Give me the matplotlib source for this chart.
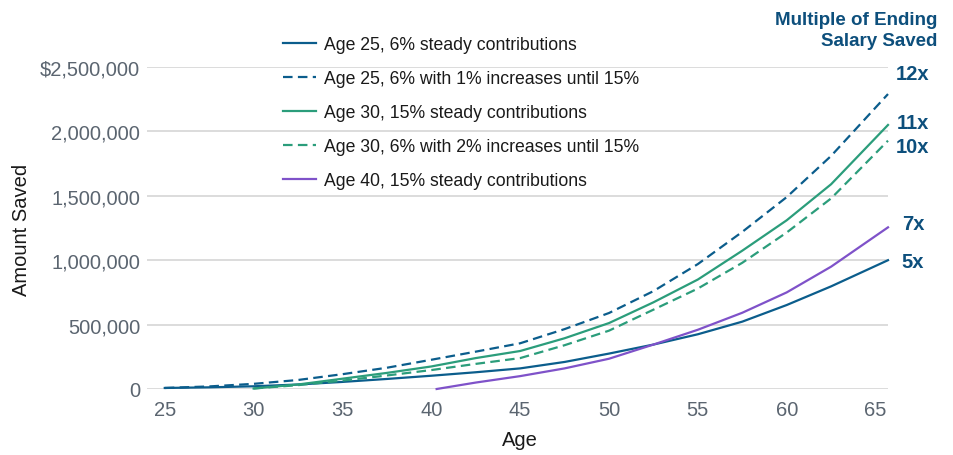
import matplotlib
matplotlib.use("Agg")
import matplotlib.pyplot as plt
from matplotlib.ticker import FuncFormatter

plt.rcParams['font.family'] = ['Liberation Sans', 'DejaVu Sans']

# ages (x) and amount saved in dollars (y)
ages_25 = [25, 27.5, 30, 32.5, 35, 37.5, 40, 42.5, 45, 47.5, 50, 52.5, 55, 57.5, 60, 62.5, 65.7]
ages_30 = [30, 32.5, 35, 37.5, 40, 42.5, 45, 47.5, 50, 52.5, 55, 57.5, 60, 62.5, 65.7]
ages_40 = [40.3, 42.5, 45, 47.5, 50, 52.5, 55, 57.5, 60, 62.5, 65.7]

age25_steady = [8e3, 13e3, 21e3, 35e3, 55e3, 78e3, 103e3, 130e3, 160e3, 210e3, 275e3, 345e3, 425e3,
                523e3, 652e3, 797e3, 1000e3]
age25_incr = [8e3, 20e3, 40e3, 70e3, 115e3, 165e3, 227e3, 290e3, 355e3, 465e3, 590e3, 760e3, 970e3,
              1220e3, 1490e3, 1810e3, 2290e3]
age30_steady = [4e3, 35e3, 80e3, 125e3, 175e3, 240e3, 295e3, 394e3, 512e3, 673e3, 850e3, 1074e3,
                1310e3, 1590e3, 2050e3]
age30_incr = [4e3, 30e3, 65e3, 105e3, 147e3, 195e3, 240e3, 340e3, 453e3, 616e3, 780e3, 980e3,
              1215e3, 1480e3, 1928e3]
age40_steady = [0, 50e3, 100e3, 160e3, 235e3, 345e3, 460e3, 592e3, 750e3, 950e3, 1255e3]

labels = ['Age 25, 6% steady contributions',
          'Age 25, 6% with 1% increases until 15%',
          'Age 30, 15% steady contributions',
          'Age 30, 6% with 2% increases until 15%',
          'Age 40, 15% steady contributions']
multiples = ['5x', '12x', '11x', '10x', '7x']

blue = '#0b5d8c'
green = '#2b9d7b'
purple = '#7f52c9'
navy = '#0d4f7c'
grey_txt = '#5b6570'

fig = plt.figure(figsize=(9.54, 4.56), dpi=100)
ax = fig.add_axes([147/954, 66/456, 741/954, 322/456])

series = [
    (ages_25, age25_steady, blue, '-'),
    (ages_25, age25_incr, blue, '--'),
    (ages_30, age30_steady, green, '-'),
    (ages_30, age30_incr, green, '--'),
    (ages_40, age40_steady, purple, '-'),
]
lines = []
for (x, y, c, ls), lab in zip(series, labels):
    l, = ax.plot(x, y, color=c, lw=1.6, ls=ls, label=lab, clip_on=False, zorder=3)
    if ls == '--':
        l.set_dashes((4.3, 2.4))
    lines.append(l)

# multiple of salary labels at the line ends
offsets = [(18, -1), (18, 14.5), (18, 1.5), (18, -4.5), (18, 3)]
for (x, y, c, ls), m, off in zip(series, multiples, offsets):
    ax.annotate(m, xy=(x[-1], y[-1]), xytext=off, textcoords='offset points',
                ha='center', va='center', fontsize=14.5, fontweight='bold',
                color=navy, annotation_clip=False)

ax.set_xlim(24, 65.7)
ax.set_ylim(0, 2500000)
ax.set_xticks(range(25, 66, 5))
ax.set_yticks(range(0, 2500001, 500000))


def money(v, pos):
    if v >= 2500000:
        return '${:,.0f}'.format(v)
    return '{:,.0f}'.format(v)


ax.yaxis.set_major_formatter(FuncFormatter(money))
ax.grid(axis='y', color='#d9d9d9', lw=1.3)
ax.set_axisbelow(True)
for s in ax.spines.values():
    s.set_visible(False)
ax.tick_params(axis='both', length=0, labelsize=14.5, colors=grey_txt)
ax.tick_params(axis='y', pad=5)
ax.tick_params(axis='x', pad=8)

fig.text(22/954, 1 - 230/456, 'Amount Saved', rotation=90, ha='center', va='center',
         fontsize=14.5, color='#1a1a1a')
fig.text(520/954, 1 - 441/456, 'Age', ha='center', va='center', fontsize=14.5, color='#1a1a1a')
fig.text(937/954, 1 - 31/456, 'Multiple of Ending\nSalary Saved', ha='right', va='center',
         multialignment='right', linespacing=1.3, fontsize=13.5, fontweight='bold', color=navy)

leg = ax.legend(handles=lines, loc='upper left', bbox_to_anchor=(283/954, 1 - 37/456),
                bbox_transform=fig.transFigure, frameon=False, fontsize=12.7,
                handlelength=1.85, handletextpad=0.5, labelspacing=0.97,
                borderpad=0, borderaxespad=0)
for t in leg.get_texts():
    t.set_color('#1a1a1a')

fig.savefig('out.png', dpi=100)
